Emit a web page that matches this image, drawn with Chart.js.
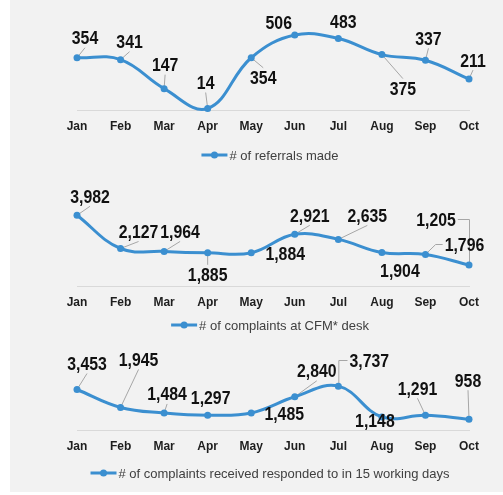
<!DOCTYPE html>
<html>
<head>
<meta charset="utf-8">
<script src="https://cdn.jsdelivr.net/npm/chart.js@4.4.1/dist/chart.umd.min.js"></script>
<style>
  html, body { margin: 0; padding: 0; background: #ffffff; }
  .panel { position: absolute; left: 10px; top: 0; width: 493px; height: 492px; background: #f2f2f2; }
  canvas { position: absolute; left: 0; }
  #c1 { top: 0; }
  #c2 { top: 168px; }
  #c3 { top: 333px; }
</style>
</head>
<body>
<div class="panel"></div>
<canvas id="c1" width="503" height="168"></canvas>
<canvas id="c2" width="503" height="165"></canvas>
<canvas id="c3" width="503" height="159"></canvas>
<script>
// Monthly activity — three stacked smoothed line charts with leader-line labels

const months = ['Jan', 'Feb', 'Mar', 'Apr', 'May', 'Jun', 'Jul', 'Aug', 'Sep', 'Oct'];

const referrals = [354, 341, 147, 14, 354, 506, 483, 375, 337, 211];
const cfmComplaints = [3982, 2127, 1964, 1885, 1884, 2921, 2635, 1904, 1796, 1205];
const respondedIn15Days = [3453, 1945, 1484, 1297, 1485, 2840, 3737, 1148, 1291, 958];

const seriesNames = [
  '# of referrals made',
  '# of complaints at CFM* desk',
  '# of complaints received responded to in 15 working days',
];

// hidden value-axis maximum for each panel
const axisMax = [600, 4500, 4000];

(() => {
  'use strict';

  const BLUE = '#3b8fd0';
  const LEADER = '#a6a6a6';
  const LABEL_FONT = 'bold 18px "Liberation Sans", Arial, sans-serif';
  const LABEL_SQUEEZE = 0.88; // labels in the source use a condensed face
  const LEGEND_FONT = '13px "Liberation Sans", Arial, sans-serif';

  // label centre offsets from each point [dx, dy, leader style]
  const labelOffsets = [
    [[8, -20], [9, -18], [1, -24], [-2, -26], [12, 20], [-16, -13, 'none'], [5, -17, 'none'], [21, 34], [3, -22], [4, -19]],
    [[13, -19], [18, -17], [16, -20], [0, 22], [34, 1, 'none'], [15, -19], [29, -24], [18, 18, 'none'], [39, -10], [-33, -46, 'elbow']],
    [[10, -26], [18, -48], [3, -19], [3, -18, 'none'], [33, 1, 'none'], [22, -26], [31, -26, 'elbow'], [-7, 4, 'none'], [-8, -27], [-1, -39]],
  ];

  /**
   * Draws data labels with Excel-like leader lines, plus the line+marker legend.
   */
  const leaderLabels = {
    id: 'leaderLabels',
    beforeDatasetsDraw(chart, args, opts) {
      const ctx = chart.ctx;
      const meta = chart.getDatasetMeta(0);
      const values = chart.data.datasets[0].data;
      ctx.save();
      ctx.font = LABEL_FONT;
      ctx.strokeStyle = LEADER;
      ctx.lineWidth = 1;
      meta.data.forEach((pt, i) => {
        const off = opts.offsets[i];
        if (off[2] === 'none') return;
        const w = ctx.measureText(values[i].toLocaleString('en-US')).width * LABEL_SQUEEZE;
        const cx = pt.x + off[0];
        const cy = pt.y + off[1];
        const l = cx - w / 2 - 2;
        const r = cx + w / 2 + 2;
        ctx.beginPath();
        if (off[2] === 'elbow') {
          const ex = cx > pt.x ? l : r;
          ctx.moveTo(pt.x + 0.5, pt.y);
          ctx.lineTo(pt.x + 0.5, Math.round(cy) + 0.5);
          ctx.lineTo(ex, Math.round(cy) + 0.5);
        } else if (Math.abs(off[1]) <= 12) {
          // side anchor: diagonal then a short horizontal run
          const ex = cx > pt.x ? l : r;
          const kx = cx > pt.x ? ex - 7 : ex + 7;
          ctx.moveTo(pt.x, pt.y);
          ctx.lineTo(kx, Math.round(cy) + 0.5);
          ctx.lineTo(ex, Math.round(cy) + 0.5);
        } else {
          // top / bottom centre anchor
          const ey = off[1] < 0 ? cy + 10 : cy - 10;
          ctx.moveTo(pt.x, pt.y);
          ctx.lineTo(cx, ey);
        }
        ctx.stroke();
      });
      ctx.restore();
    },
    afterDatasetsDraw(chart, args, opts) {
      const ctx = chart.ctx;
      const meta = chart.getDatasetMeta(0);
      const values = chart.data.datasets[0].data;
      ctx.save();
      ctx.font = LABEL_FONT;
      ctx.fillStyle = '#111111';
      ctx.textAlign = 'center';
      ctx.textBaseline = 'alphabetic';
      meta.data.forEach((pt, i) => {
        const off = opts.offsets[i];
        ctx.save();
        ctx.translate(pt.x + off[0], pt.y + off[1] + 6.5);
        ctx.scale(LABEL_SQUEEZE, 1);
        ctx.fillText(values[i].toLocaleString('en-US'), 0, 0);
        ctx.restore();
      });

      // legend: short line with a marker, then the series name
      const name = chart.data.datasets[0].label;
      ctx.font = LEGEND_FONT;
      const tw = ctx.measureText(name).width;
      const total = 26 + 2 + tw;
      const area = chart.chartArea;
      const x0 = (area.left + area.right) / 2 - 3 - total / 2;
      const y = chart.height - opts.legendFromBottom;
      ctx.strokeStyle = BLUE;
      ctx.lineWidth = 3;
      ctx.beginPath();
      ctx.moveTo(x0, y);
      ctx.lineTo(x0 + 26, y);
      ctx.stroke();
      ctx.fillStyle = BLUE;
      ctx.beginPath();
      ctx.arc(x0 + 13, y, 3.5, 0, Math.PI * 2);
      ctx.fill();
      ctx.fillStyle = '#404040';
      ctx.textAlign = 'left';
      ctx.textBaseline = 'middle';
      ctx.fillText(name, x0 + 28, y + 1);
      ctx.restore();
    },
  };

  /**
   * Build one panel.
   * @param {string} id - canvas id
   * @param {number} idx - panel index
   * @param {number[]} values - series values
   * @param {object} pad - layout padding
   * @param {number} legendFromBottom - legend centre distance from canvas bottom
   */
  function makeChart(id, idx, values, pad, legendFromBottom) {
    return new Chart(document.getElementById(id), {
      type: 'line',
      data: {
        labels: months,
        datasets: [{
          label: seriesNames[idx],
          data: values,
          borderColor: BLUE,
          backgroundColor: BLUE,
          borderWidth: 3,
          pointRadius: 3.5,
          pointBackgroundColor: BLUE,
          pointBorderWidth: 0,
          tension: 0.4,
          capBezierPoints: false,
          clip: false,
        }],
      },
      options: {
        responsive: false,
        animation: false,
        layout: { padding: pad },
        plugins: {
          legend: { display: false },
          tooltip: { enabled: false },
          leaderLabels: { offsets: labelOffsets[idx], legendFromBottom: legendFromBottom },
        },
        scales: {
          x: {
            offset: false,
            grid: { display: false, drawTicks: false },
            border: { display: true, color: '#d9d9d9', width: 1 },
            ticks: {
              padding: 9,
              color: '#1e1e1e',
              maxRotation: 0,
              font: { family: '"Liberation Sans", Arial, sans-serif', size: 12, weight: 'bold' },
            },
          },
          y: {
            display: false,
            min: 0,
            max: axisMax[idx],
          },
        },
      },
      plugins: [leaderLabels],
    });
  }

  makeChart('c1', 0, referrals, { top: 21, left: 77, right: 34, bottom: 25 }, 13);
  makeChart('c2', 1, cfmComplaints, { top: 38, left: 77, right: 34, bottom: 14 }, 8);
  makeChart('c3', 2, respondedIn15Days, { top: 50, left: 77, right: 34, bottom: 29 }, 19);
})();
</script>
</body>
</html>
